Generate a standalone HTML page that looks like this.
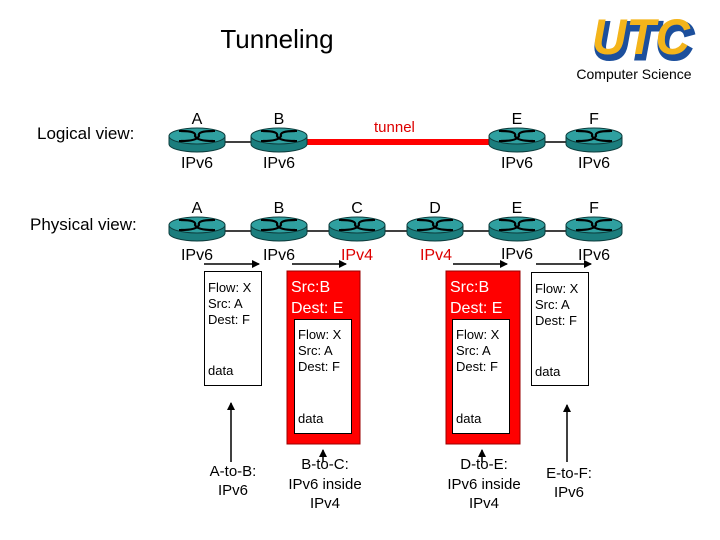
<!DOCTYPE html>
<html><head><meta charset="utf-8"><style>
html,body{margin:0;padding:0;background:#fff;}
svg{display:block;}
text{font-family:"Liberation Sans",sans-serif;}
</style></head><body>
<svg width="720" height="540" viewBox="0 0 720 540" xmlns="http://www.w3.org/2000/svg">
<defs>
<g id="r">
<path d="M-28,0 L-28,8 A28,8 0 0 0 28,8 L28,0 Z" fill="#1b7d7d" stroke="#0d3d3d" stroke-width="1"/>
<ellipse cx="0" cy="0" rx="28" ry="8" fill="#2fa0a0" stroke="#0d3d3d" stroke-width="1"/>
<path d="M-16,-5 Q0,-5 -2,0 Q0,5 16,5 M16,-5 Q0,-5 2,0 Q0,5 -16,5" fill="none" stroke="#000" stroke-width="2.2"/>
<path d="M-18,-5 h6 M12,5 h6 M12,-5 h6 M-18,5 h6" stroke="#000" stroke-width="2"/>
</g>
<marker id="ah" markerWidth="8" markerHeight="8" refX="7" refY="4" orient="auto" markerUnits="userSpaceOnUse"><path d="M0,0 L8,4 L0,8 Z" fill="#000"/></marker>
</defs>
<text x="277" y="48" font-size="26" text-anchor="middle">Tunneling</text>
<!-- UTC logo -->
<g>
<text x="594" y="58" font-size="50" font-weight="bold" font-style="italic" textLength="98" lengthAdjust="spacingAndGlyphs" fill="#1c4f9c" stroke="#1c4f9c" stroke-width="5">UTC</text>
<text x="592" y="54" font-size="50" font-weight="bold" font-style="italic" textLength="98" lengthAdjust="spacingAndGlyphs" fill="#f4b41a">UTC</text>
</g>
<text x="634" y="79" font-size="14" text-anchor="middle">Computer Science</text>

<text x="37" y="139" font-size="17">Logical view:</text>
<text x="30" y="230" font-size="17">Physical view:</text>

<!-- logical -->
<line x1="220" y1="142" x2="255" y2="142" stroke="#000" stroke-width="1.5"/>
<line x1="540" y1="142" x2="570" y2="142" stroke="#000" stroke-width="1.5"/>
<line x1="305" y1="142" x2="490" y2="142" stroke="#f00" stroke-width="6"/>
<use href="#r" x="197" y="136"/>
<use href="#r" x="279" y="136"/>
<use href="#r" x="517" y="136"/>
<use href="#r" x="594" y="136"/>
<text x="374" y="132" font-size="15" fill="#d00">tunnel</text>
<g font-size="16" text-anchor="middle">
<text x="197" y="124">A</text><text x="279" y="124">B</text><text x="517" y="124">E</text><text x="594" y="124">F</text>
<text x="197" y="168">IPv6</text><text x="279" y="168">IPv6</text><text x="517" y="168">IPv6</text><text x="594" y="168">IPv6</text>
</g>

<!-- physical -->
<line x1="197" y1="231" x2="594" y2="231" stroke="#000" stroke-width="1.5"/>
<use href="#r" x="197" y="225"/>
<use href="#r" x="279" y="225"/>
<use href="#r" x="357" y="225"/>
<use href="#r" x="435" y="225"/>
<use href="#r" x="517" y="225"/>
<use href="#r" x="594" y="225"/>
<g font-size="16" text-anchor="middle">
<text x="197" y="213">A</text><text x="279" y="213">B</text><text x="357" y="213">C</text><text x="435" y="213">D</text><text x="517" y="213">E</text><text x="594" y="213">F</text>
<text x="197" y="260">IPv6</text><text x="279" y="260">IPv6</text><text x="357" y="260" fill="#d00">IPv4</text><text x="436" y="260" fill="#d00">IPv4</text><text x="517" y="259">IPv6</text><text x="594" y="260">IPv6</text>
</g>
<g stroke="#000" stroke-width="1.5" marker-end="url(#ah)">
<line x1="204" y1="264" x2="259" y2="264"/>
<line x1="292" y1="264" x2="346" y2="264"/>
<line x1="453" y1="264" x2="507" y2="264"/>
<line x1="536" y1="264" x2="591" y2="264"/>
</g>

<!-- boxes -->
<rect x="204.5" y="271.5" width="57" height="114" fill="#fff" stroke="#000"/>
<g font-size="13"><text x="208" y="292">Flow: X</text><text x="208" y="308">Src: A</text><text x="208" y="324">Dest: F</text><text x="208" y="375">data</text></g>

<rect x="287" y="271" width="73" height="173" fill="#f00" stroke="#900"/>
<rect x="294.5" y="319.5" width="57" height="114" fill="#fff" stroke="#000"/>
<g font-size="16" fill="#fff"><text x="291" y="292">Src:B</text><text x="291" y="313">Dest: E</text></g>
<g font-size="13"><text x="298" y="339">Flow: X</text><text x="298" y="355">Src: A</text><text x="298" y="371">Dest: F</text><text x="298" y="423">data</text></g>

<rect x="446" y="271" width="74" height="173" fill="#f00" stroke="#900"/>
<rect x="452.5" y="319.5" width="57" height="114" fill="#fff" stroke="#000"/>
<g font-size="16" fill="#fff"><text x="450" y="292">Src:B</text><text x="450" y="313">Dest: E</text></g>
<g font-size="13"><text x="456" y="339">Flow: X</text><text x="456" y="355">Src: A</text><text x="456" y="371">Dest: F</text><text x="456" y="423">data</text></g>

<rect x="531.5" y="272.5" width="57" height="113" fill="#fff" stroke="#000"/>
<g font-size="13"><text x="535" y="293">Flow: X</text><text x="535" y="309">Src: A</text><text x="535" y="325">Dest: F</text><text x="535" y="376">data</text></g>

<!-- up arrows -->
<g stroke="#000" stroke-width="1.5" marker-end="url(#ah)">
<line x1="231" y1="462" x2="231" y2="403"/>
<line x1="567" y1="462" x2="567" y2="405"/>
<line x1="323" y1="462" x2="323" y2="450"/>
<line x1="482" y1="462" x2="482" y2="450"/>
</g>

<g font-size="15" text-anchor="middle">
<text x="233" y="476">A-to-B:</text><text x="233" y="495">IPv6</text>
<text x="325" y="469">B-to-C:</text><text x="325" y="489">IPv6 inside</text><text x="325" y="508">IPv4</text>
<text x="484" y="469">D-to-E:</text><text x="484" y="489">IPv6 inside</text><text x="484" y="508">IPv4</text>
<text x="569" y="478">E-to-F:</text><text x="569" y="497">IPv6</text>
</g>
</svg>
</body></html>
